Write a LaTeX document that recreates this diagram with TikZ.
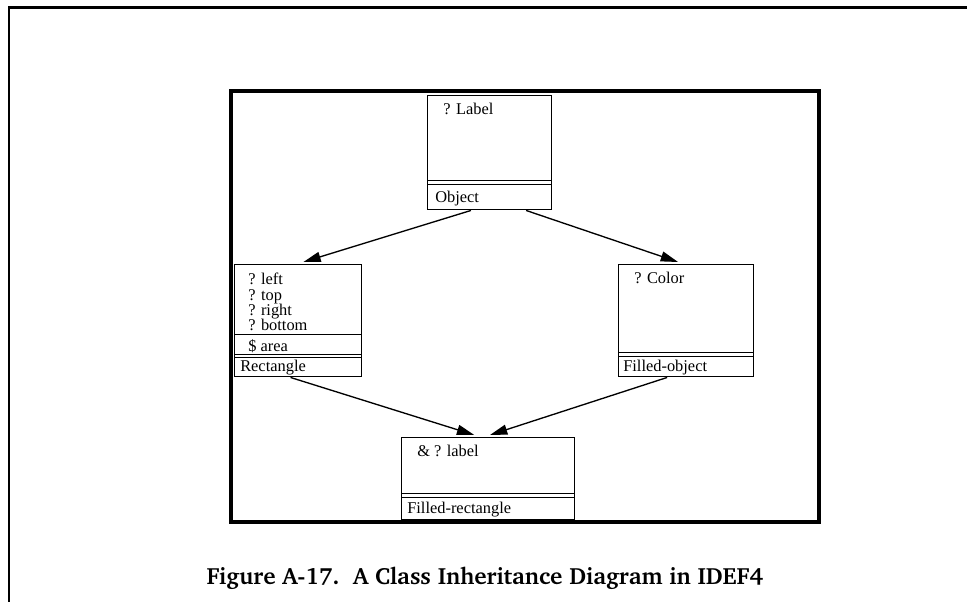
\documentclass[tikz,border=0pt]{standalone}
\usepackage{fontspec}
\setmainfont{Liberation Serif}
\usepackage{tikz}
\usetikzlibrary{arrows.meta, positioning, calc}

\tikzset{
  classbox/.style={draw, line width=1.1pt, inner sep=0pt, anchor=north west},
  attrtext/.style={font=\fontsize{12.3}{11.4}\selectfont, anchor=north west, inner sep=0pt, align=left},
  nametext/.style={font=\fontsize{12.3}{12}\selectfont, anchor=west, inner sep=0pt},
  sepline/.style={line width=0.7pt},
  inherit/.style={line width=1pt, -{Triangle[length=13pt, width=7.5pt]}}
}

\begin{document}
\begin{tikzpicture}[x=0.75pt, y=-0.75pt]
  \useasboundingbox (0,0) rectangle (967,602);
  % page frame and figure frame
  \draw[line width=1.6pt] (9,602) |- (967,7.5);
  \draw[line width=3pt] (230.5,91) rectangle (819,522);

  % classes
  \node[classbox, minimum width=93pt, minimum height=85.5pt] (obj) at (427,95) {};
  \node[classbox, minimum width=95.25pt, minimum height=84pt] (rect) at (234,264) {};
  \node[classbox, minimum width=101.25pt, minimum height=84pt] (fobj) at (618,264) {};
  \node[classbox, minimum width=129.75pt, minimum height=61.5pt] (frect) at (401,437) {};

  % compartments
  \draw[sepline] ($(obj.north west)+(0,85)$) -- ($(obj.north east)+(0,85)$);
  \draw[sepline] ($(obj.north west)+(0,89)$) -- ($(obj.north east)+(0,89)$);
  \draw[sepline] ($(rect.north west)+(0,70)$) -- ($(rect.north east)+(0,70)$);
  \draw[sepline] ($(rect.north west)+(0,90)$) -- ($(rect.north east)+(0,90)$);
  \draw[sepline] ($(rect.north west)+(0,93)$) -- ($(rect.north east)+(0,93)$);
  \draw[sepline] ($(fobj.north west)+(0,88)$) -- ($(fobj.north east)+(0,88)$);
  \draw[sepline] ($(fobj.north west)+(0,92)$) -- ($(fobj.north east)+(0,92)$);
  \draw[sepline] ($(frect.north west)+(0,56)$) -- ($(frect.north east)+(0,56)$);
  \draw[sepline] ($(frect.north west)+(0,60)$) -- ($(frect.north east)+(0,60)$);

  % attributes
  \node[attrtext] (objattr) at ($(obj.north west)+(16,8)$) {? Label};
  \node[attrtext] (rectattr) at ($(rect.north west)+(14,9)$) {? left\\? top\\? right\\? bottom};
  \node[attrtext] (rectmeth) at ($(rect.north west)+(14,75)$) {\$ area};
  \node[attrtext] (fobjattr) at ($(fobj.north west)+(16,8)$) {? Color};
  \node[attrtext] (frectattr) at ($(frect.north west)+(16,8)$) {\& ? label};

  % class names
  \node[nametext] (objname) at ($(obj.south west)+(8,-12)$) {Object};
  \node[nametext] (rectname) at ($(rect.south west)+(6,-10)$) {Rectangle};
  \node[nametext] (fobjname) at ($(fobj.south west)+(5,-10)$) {Filled-object};
  \node[nametext] (frectname) at ($(frect.south west)+(6,-11)$) {Filled-rectangle};

  % inheritance links
  \draw[inherit] ($(obj.south west)!0.35!(obj.south east)$) -- ($(rect.north west)!0.54!(rect.north east)+(0,-2)$);
  \draw[inherit] ($(obj.south west)!0.79!(obj.south east)$) -- ($(fobj.north west)!0.44!(fobj.north east)+(0,-2)$);
  \draw[inherit] ($(rect.south west)!0.44!(rect.south east)$) -- ($(frect.north west)!0.42!(frect.north east)+(0,-2)$);
  \draw[inherit] ($(fobj.south west)!0.36!(fobj.south east)$) -- ($(frect.north west)!0.51!(frect.north east)+(0,-2)$);

  % caption
  \node[font=\fontencoding{T1}\fontfamily{bch}\fontseries{b}\fontsize{17.6}{20}\selectfont, inner sep=0pt] (caption) at (485,578) {Figure A-17.\ \ A Class Inheritance Diagram in IDEF4};
\end{tikzpicture}
\end{document}
